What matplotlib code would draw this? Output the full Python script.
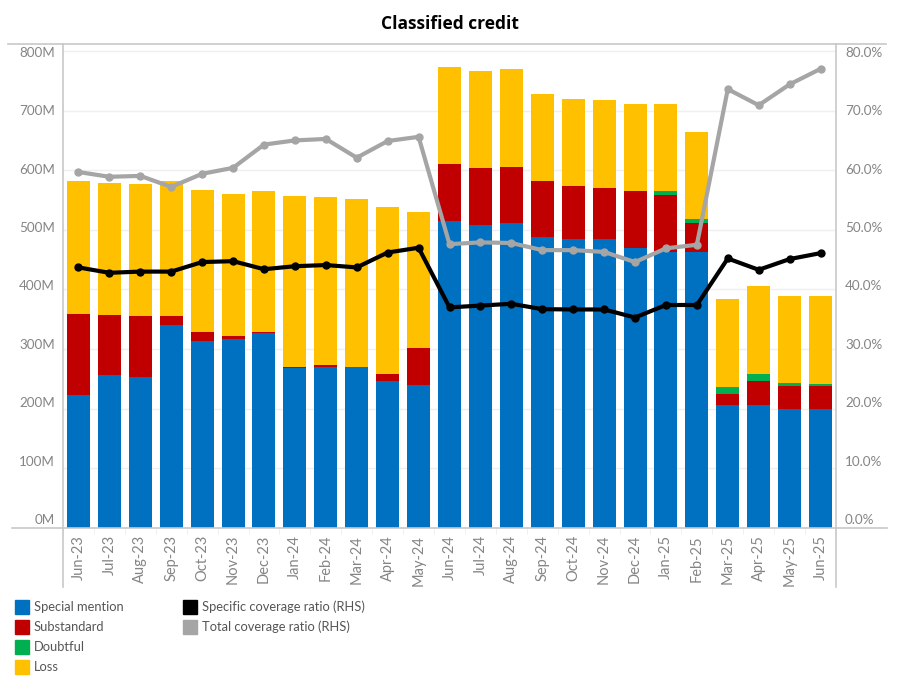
import matplotlib
matplotlib.use('Agg')
import matplotlib.pyplot as plt
from matplotlib.lines import Line2D
from matplotlib.patches import Rectangle
import numpy as np

months = ['Jun-23', 'Jul-23', 'Aug-23', 'Sep-23', 'Oct-23', 'Nov-23', 'Dec-23',
          'Jan-24', 'Feb-24', 'Mar-24', 'Apr-24', 'May-24', 'Jun-24', 'Jul-24',
          'Aug-24', 'Sep-24', 'Oct-24', 'Nov-24', 'Dec-24', 'Jan-25', 'Feb-25',
          'Mar-25', 'Apr-25', 'May-25', 'Jun-25']

# values in millions
special_mention = [223.5, 256, 253.6, 339.7, 314, 317.3, 327.4, 268.7, 270.4, 269.3, 247, 240.2,
                   515, 508.4, 511.7, 488.3, 485, 485, 469.8, 463.1, 463.1,
                   206.7, 206.7, 200, 200]
substandard = [135.5, 101.5, 102.4, 15, 15, 5, 1.6, 1.7, 2.2, 1.1, 11.7, 62,
               95.6, 95.6, 93.9, 93.8, 88.7, 85.4, 95.6, 95.6, 48.6,
               18.4, 40.2, 38.5, 38.5]
doubtful = [0, 0, 0, 0, 0, 0, 0, 0, 0, 0, 0, 0,
            0, 0, 0, 0, 0, 0, 0, 6.7, 6.7,
            11.8, 11.8, 5.1, 3.4]
loss = [223, 221.5, 221, 227.3, 238, 238, 236.4, 286.6, 282.7, 281.6, 279.8, 228,
        162.6, 162.5, 164.2, 145.9, 145.9, 147.6, 145.8, 145.8, 145.8,
        147.5, 147.4, 145.8, 147.5]

# percent
specific_cov = [43.7, 42.8, 43.0, 43.0, 44.6, 44.75, 43.4, 43.9, 44.1, 43.7, 46.2, 47.0,
                37.0, 37.3, 37.6, 36.7, 36.65, 36.65, 35.3, 37.4, 37.4,
                45.2, 43.3, 45.1, 46.1]
total_cov = [59.7, 58.9, 59.05, 57.2, 59.4, 60.4, 64.3, 65.0, 65.25, 62.1, 64.9, 65.6,
             47.6, 47.9, 47.8, 46.6, 46.6, 46.3, 44.6, 46.9, 47.5,
             73.6, 70.9, 74.4, 77.0]

left_ticks = [0, 100, 200, 300, 400, 500, 600, 700, 800]
right_ticks = [0, 10, 20, 30, 40, 50, 60, 70, 80]

colors = {'Special mention': '#0070C0', 'Substandard': '#C00000',
          'Doubtful': '#00B050', 'Loss': '#FFC000'}
line_colors = {'Specific coverage ratio (RHS)': '#000000',
               'Total coverage ratio (RHS)': '#A5A5A5'}
text_grey = '#858585'
rule_grey = '#c8c8c8'
tick_font = 'Lato'


def main():
    fig = plt.figure(figsize=(9, 7), dpi=100)
    W, H = 900, 700
    ax = fig.add_axes([63 / W, 1 - 528 / H, (836 - 63) / W, (528 - 44) / H])

    x = np.arange(len(months))
    bottom = np.zeros(len(months))
    for name, vals in [('Special mention', special_mention), ('Substandard', substandard),
                       ('Doubtful', doubtful), ('Loss', loss)]:
        vals = np.asarray(vals)
        ax.bar(x, vals, 0.745, bottom=bottom, color=colors[name], zorder=2)
        bottom += vals

    ax.set_xlim(-0.5, len(months) - 0.5)
    ax.set_ylim(0, 811.7)
    ax.set_yticks(left_ticks)
    ax.set_yticklabels([])
    ax.grid(axis='y', color='#efefef', linewidth=1, zorder=0)
    ax.set_xticks(x)
    ax.set_xticklabels(months, rotation=90, fontsize=10.5, color=text_grey, family=tick_font)
    ax.set_xticks(np.arange(-0.5, len(months)), minor=True)
    ax.tick_params(axis='x', which='major', length=0, pad=5)
    ax.tick_params(axis='x', which='minor', length=4, color='#eeeeee')
    ax.tick_params(axis='y', length=0)
    for s in ax.spines.values():
        s.set_visible(False)

    # tableau squeezes the outer labels inside the pane
    n = len(left_ticks) - 1
    for i, v in enumerate(left_ticks):
        shift = 8 - 10 * i / n
        ax.annotate('%dM' % v, xy=(0, v), xycoords=('axes fraction', 'data'),
                    xytext=(-8, shift), textcoords='offset pixels', ha='right', va='center',
                    fontsize=9.7, color=text_grey, family=tick_font)

    ax2 = ax.twinx()
    ax2.set_ylim(0, 81.17)
    ax2.set_xlim(-0.5, len(months) - 0.5)
    ax2.plot(x, total_cov, color=line_colors['Total coverage ratio (RHS)'], lw=3,
             marker='o', ms=5, zorder=3)
    ax2.plot(x, specific_cov, color=line_colors['Specific coverage ratio (RHS)'], lw=3,
             marker='o', ms=5, zorder=4)
    ax2.set_yticks(right_ticks)
    ax2.set_yticklabels([])
    ax2.tick_params(axis='y', length=0)
    for s in ax2.spines.values():
        s.set_visible(False)
    for i, v in enumerate(right_ticks):
        shift = 8 - 10 * i / n
        ax2.annotate('%.1f%%' % v, xy=(1, v), xycoords=('axes fraction', 'data'),
                     xytext=(9, shift), textcoords='offset pixels', ha='left', va='center',
                     fontsize=9.7, color=text_grey, family=tick_font)

    # frame lines in pixel coords
    def hline(y, x0, x1):
        fig.add_artist(Line2D([x0 / W, x1 / W], [1 - y / H, 1 - y / H], color=rule_grey, lw=1.2))

    def vline(xp, y0, y1):
        fig.add_artist(Line2D([xp / W, xp / W], [1 - y0 / H, 1 - y1 / H], color=rule_grey, lw=1.2))

    hline(44, 8, 886)
    hline(528, 12, 887)
    vline(63, 44, 587)
    vline(836, 44, 587)

    fig.text(450 / W, 1 - 24 / H, 'Classified credit', ha='center', va='center',
             fontsize=12.5, fontweight='bold', family='Open Sans', color='#000000')

    # legend
    for i, (name, c) in enumerate(colors.items()):
        y = 600 + 20 * i
        fig.add_artist(Rectangle((15 / W, 1 - (y + 14) / H), 14 / W, 14 / H,
                                 color=c, transform=fig.transFigure))
        fig.text(34 / W, 1 - (y + 7) / H, name, va='center', fontsize=9.3,
                 color='#555555', family='Lato')
    for i, (name, c) in enumerate(line_colors.items()):
        y = 600 + 20 * i
        fig.add_artist(Rectangle((183 / W, 1 - (y + 14) / H), 14 / W, 14 / H,
                                 color=c, transform=fig.transFigure))
        fig.text(202 / W, 1 - (y + 7) / H, name, va='center', fontsize=9.3,
                 color='#555555', family='Lato')

    fig.savefig('out.png', dpi=100)


if __name__ == '__main__':
    main()
